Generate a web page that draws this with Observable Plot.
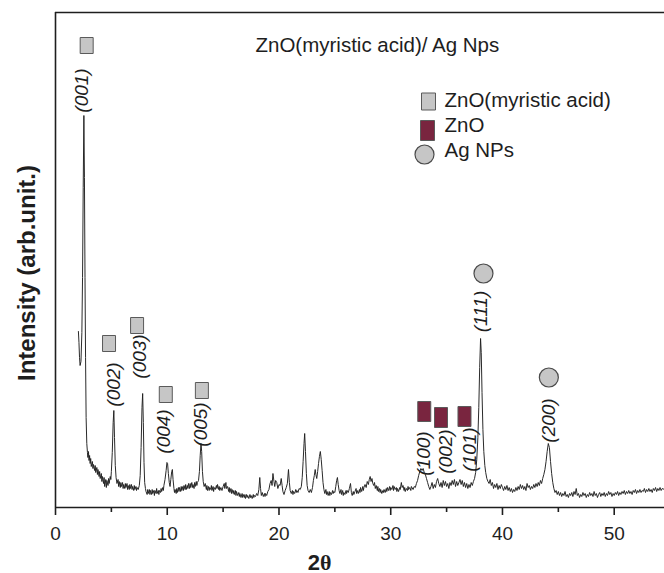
<!DOCTYPE html>
<html>
<head>
<meta charset="utf-8">
<script src="https://cdn.jsdelivr.net/npm/d3@7"></script>
<script src="https://cdn.jsdelivr.net/npm/@observablehq/plot@0.6"></script>
<style>
  html, body { margin: 0; padding: 0; background: #fff; }
  #chart svg { display: block; }
</style>
</head>
<body>
<div id="chart"></div>
<script>
// ---- Data: [2θ (deg), intensity (arb. units)] ----
const pattern = [
 [2.05,176],[2.1,165],[2.15,150],[2.2,142],[2.28,146],[2.36,175],[2.42,230],[2.48,320],[2.54,392],[2.59,330],[2.64,230],[2.69,150],[2.74,90],[2.8,64],[2.86,55],[2.9,50],[2.95,56],[3.0,47],[3.05,52],[3.1,44],[3.15,49],[3.2,41],[3.3,46],[3.35,39],[3.4,43],[3.5,37],[3.55,42],[3.6,35],[3.7,40],[3.75,33],[3.8,38],[3.9,31],[3.95,36],[4.0,29],[4.1,34],[4.15,26],[4.2,31],[4.3,24],[4.35,30],[4.4,21],[4.5,28],[4.55,20],[4.6,27],[4.7,22],[4.75,29],[4.8,24],[4.9,31],[4.95,28],[5.0,36],[5.08,55],[5.16,85],[5.22,97],[5.28,70],[5.35,42],[5.42,30],
 [5.5,24],[5.6,28],[5.65,21],[5.7,26],[5.8,20],[5.85,25],[5.9,21],[6.0,25],[6.05,19],[6.1,23],[6.2,19],[6.25,24],[6.3,20],[6.4,24],[6.45,18],[6.5,22],[6.6,18],[6.65,23],[6.7,19],[6.8,23],[6.85,18],[6.9,21],[7.0,17],[7.05,22],[7.1,18],[7.2,21],[7.25,17],[7.3,20],[7.4,18],[7.5,22],[7.58,32],[7.66,60],[7.74,100],[7.8,114],[7.86,85],[7.92,45],[7.98,25],[8.05,19],
 [8.1,16],[8.2,13],[8.25,18],[8.3,14],[8.4,18],[8.45,13],[8.5,17],[8.6,13],[8.65,18],[8.7,14],[8.8,17],[8.85,12],[8.9,17],[9.0,14],[9.05,19],[9.1,14],[9.2,17],[9.25,13],[9.3,17],[9.4,15],[9.45,19],[9.5,16],[9.6,20],[9.65,17],[9.7,22],[9.8,28],[9.9,37],[9.97,45],[10.03,44],[10.1,34],[10.18,25],[10.25,21],[10.32,28],[10.4,36],[10.46,38],[10.52,28],[10.6,19],[10.65,15],
 [10.7,18],[10.8,14],[10.85,19],[10.9,15],[11.0,20],[11.05,16],[11.1,20],[11.2,16],[11.25,21],[11.3,17],[11.4,21],[11.45,17],[11.5,22],[11.6,18],[11.65,23],[11.7,18],[11.8,22],[11.85,19],[11.9,24],[12.0,19],[12.05,24],[12.1,20],[12.2,25],[12.25,20],[12.3,23],[12.4,19],[12.45,25],[12.5,21],[12.6,26],[12.65,22],[12.7,25],[12.8,27],[12.88,36],[12.95,52],[13.02,64],[13.08,56],[13.15,36],[13.22,26],[13.3,21],[13.4,24],
 [13.5,18],[13.55,22],[13.6,17],[13.7,21],[13.75,17],[13.8,20],[13.9,18],[13.95,22],[14.0,17],[14.1,21],[14.15,16],[14.2,20],[14.3,18],[14.4,22],[14.45,19],[14.5,23],[14.6,18],[14.65,21],[14.7,17],[14.8,20],[14.9,17],[15.0,21],[15.1,24],[15.15,19],[15.25,25],[15.3,19],[15.4,21],[15.5,16],[15.55,20],[15.6,15],[15.7,19],[15.75,14],[15.8,18],[15.9,14],[15.95,17],[16.0,13],[16.1,17],[16.15,12],[16.2,16],[16.3,12],[16.4,15],[16.45,11],[16.5,14],
 [16.6,10],[16.7,14],[16.75,10],[16.8,13],[16.9,10],[16.95,13],[17.0,9],[17.1,13],[17.15,10],[17.2,12],[17.3,9],[17.4,13],[17.45,10],[17.5,12],[17.6,9],[17.7,13],[17.75,10],[17.8,12],[17.9,11],[18.0,14],[18.1,12],[18.2,18],[18.28,30],[18.35,19],[18.42,12],[18.5,15],[18.6,11],[18.7,14],[18.75,11],[18.8,14],[18.9,12],[19.0,16],[19.1,18],[19.2,24],[19.3,27],[19.38,22],[19.46,34],[19.55,26],[19.62,21],[19.7,27],[19.8,25],[19.9,19],[20.0,23],[20.1,22],[20.2,29],[20.28,22],[20.35,16],[20.45,13],[20.55,17],[20.65,20],[20.75,24],[20.85,38],[20.93,25],[21.0,17],[21.1,14],[21.2,17],[21.25,13],[21.3,16],[21.4,14],[21.5,18],[21.55,15],[21.6,17],[21.7,15],[21.8,19],[21.9,18],[22.0,21],[22.08,30],[22.16,46],[22.24,64],[22.3,74],[22.37,56],[22.45,34],[22.52,22],[22.6,17],[22.7,15],[22.8,18],[22.9,15],[23.0,20],
 [23.08,27],[23.16,32],[23.24,38],[23.3,33],[23.38,29],[23.46,36],[23.54,44],[23.62,51],[23.7,56],[23.78,48],[23.86,37],[23.94,25],[24.02,18],[24.1,14],[24.2,18],[24.25,13],[24.3,16],[24.4,12],[24.5,16],[24.55,12],[24.6,15],[24.7,13],[24.8,17],[24.85,14],[24.9,16],[25.0,15],[25.08,21],[25.16,27],[25.23,30],[25.3,23],[25.38,17],[25.45,14],[25.55,18],[25.6,13],[25.7,17],[25.75,12],[25.8,15],[25.9,13],[26.0,17],[26.05,14],[26.1,17],[26.2,15],[26.3,19],[26.4,24],[26.48,15],[26.55,12],[26.65,16],[26.7,13],[26.8,16],[26.9,19],[26.95,14],[27.0,17],[27.1,14],[27.2,18],[27.25,15],[27.3,20],[27.4,16],[27.5,21],[27.55,17],[27.6,20],[27.7,23],[27.8,20],[27.9,26],[28.0,23],[28.08,28],[28.16,31],[28.24,26],[28.32,29],[28.4,24],[28.48,22],[28.55,25],[28.62,19],[28.7,22],[28.8,17],[28.85,21],[28.9,16],[29.0,19],[29.05,15],[29.1,18],[29.2,14],[29.3,17],[29.35,15],[29.4,18],[29.5,15],[29.6,19],[29.65,16],[29.7,20],[29.8,17],[29.9,21],[29.95,17],[30.0,20],[30.1,18],[30.2,22],[30.25,17],[30.3,21],[30.4,18],[30.5,20],[30.55,16],[30.6,19],[30.7,16],[30.8,20],[30.85,18],[30.95,25],[31.02,20],[31.1,22],[31.2,17],[31.25,20],[31.3,16],[31.4,19],[31.5,17],[31.55,21],[31.6,18],[31.7,20],[31.8,17],[31.85,21],[31.9,20],[32.0,18],[32.1,21],[32.2,20],[32.3,24],[32.4,27],[32.5,32],[32.6,36],[32.7,39],[32.8,37],[32.9,39],[33.0,35],[33.1,33],[33.2,29],[33.3,25],[33.4,21],[33.5,18],[33.6,21],[33.7,25],[33.8,19],[33.9,23],
 [34.0,20],[34.1,26],[34.2,29],[34.3,24],[34.4,21],[34.5,25],[34.6,20],[34.7,27],[34.8,22],[34.9,26],[35.0,21],[35.1,24],[35.2,19],[35.3,25],[35.4,22],[35.5,27],[35.6,23],[35.7,28],[35.8,21],[35.9,26],[36.0,22],[36.1,25],[36.2,28],[36.3,23],[36.4,27],[36.5,21],[36.6,25],[36.7,20],[36.8,24],[36.9,19],[37.0,23],[37.1,20],[37.2,25],[37.3,22],[37.4,26],[37.5,29],[37.6,35],[37.7,48],[37.8,70],[37.88,100],[37.96,140],[38.04,169],[38.1,155],[38.17,115],[38.25,78],[38.33,56],[38.42,42],[38.5,35],[38.6,29],[38.7,26],
 [38.8,24],[38.9,28],[39.0,22],[39.1,25],[39.2,19],[39.3,23],[39.4,20],[39.5,24],[39.6,18],[39.7,22],[39.8,19],[39.9,23],[40.0,20],[40.1,17],[40.2,21],[40.3,18],[40.4,22],[40.5,17],[40.6,20],[40.7,16],[40.8,19],[40.9,15],[41.0,18],[41.1,16],[41.2,20],[41.3,17],[41.4,21],[41.5,18],[41.6,23],[41.7,19],[41.8,22],[41.9,18],[42.0,21],[42.1,17],[42.2,24],[42.3,20],[42.4,22],[42.5,18],[42.6,21],[42.7,19],[42.8,23],[42.9,20],[43.0,24],[43.1,21],[43.2,25],[43.3,22],[43.4,27],[43.5,24],[43.6,29],[43.7,33],[43.8,38],[43.9,46],[44.0,56],[44.1,64],[44.2,60],[44.3,46],[44.4,34],[44.5,25],[44.6,19],[44.7,15],[44.8,17],[44.9,13],
 [45.0,16],[45.1,12],[45.2,15],[45.3,11],[45.4,14],[45.5,12],[45.6,16],[45.7,11],[45.8,13],[45.9,10],[46.0,14],[46.1,12],[46.2,15],[46.3,11],[46.4,16],[46.5,13],[46.6,19],[46.7,12],[46.8,14],[46.9,10],[47.0,13],[47.1,11],[47.2,15],[47.3,12],[47.4,14],[47.5,10],[47.6,13],[47.7,11],[47.8,15],[47.9,12],[48.0,14],[48.1,11],[48.2,16],[48.3,12],[48.4,14],[48.5,10],[48.6,13],[48.7,15],[48.8,11],[48.9,14],[49.0,12],[49.1,15],[49.2,11],[49.3,14],[49.4,12],[49.5,16],[49.6,13],[49.7,15],[49.8,11],[49.9,14],[50.0,12],[50.1,15],[50.2,13],[50.3,16],[50.4,12],[50.5,15],[50.6,13],[50.7,16],[50.8,14],[50.9,17],[51.0,13],[51.1,16],[51.2,14],[51.3,17],[51.4,14],[51.5,16],[51.6,13],[51.7,17],[51.8,15],[51.9,18],[52.0,14],[52.1,17],[52.2,15],[52.3,18],[52.4,15],[52.5,17],[52.6,16],[52.7,19],[52.8,15],[52.9,18],[53.0,16],[53.1,19],[53.2,16],[53.3,18],[53.4,15],[53.5,19],[53.6,17],[53.7,20],[53.8,16],[53.9,19],[54.0,17],[54.1,20],[54.2,17],[54.3,19],[54.5,18]
];

// Peak markers [2θ, height] and Miller-index labels [text, 2θ, height]
const acidMarkers = [[2.79,462],[4.79,164],[7.3,182],[9.87,113],[13.1,117]];
const acidLabels  = [["(001)",2.33,417],["(002)",5.24,123],["(003)",7.52,151],["(004)",9.71,76],["(005)",13.0,83]];
const znoMarkers  = [[33.0,96],[34.5,90],[36.6,91]];
const znoLabels   = [["(100)",33.0,54],["(002)",34.96,56],["(101)",37.06,58]];
const agMarkers   = [[38.3,234],[44.15,130]];
const agLabels    = [["(111)",38.1,196],["(200)",44.18,87]];

const majorTicks = [0, 10, 20, 30, 40, 50];
const minorTicks = [5, 15, 25, 35, 45];
const legendLabels = ["ZnO(myristic acid)", "ZnO", "Ag NPs"];
const titleText = "ZnO(myristic acid)/ Ag Nps";
const yLabel = "Intensity (arb.unit.)";

// ---- Styling ----
const sans = "'Liberation Sans', Arial, Helvetica, sans-serif";
const serif = "'Liberation Serif', 'Times New Roman', serif";
const gray = "#c6c6c6";
const maroon = "#79253f";
const ink = "#1e1e1e";
const rectSym = (w, h) => ({
  draw(ctx) {
    ctx.moveTo(-w / 2, -h / 2); ctx.lineTo(w / 2, -h / 2);
    ctx.lineTo(w / 2, h / 2); ctx.lineTo(-w / 2, h / 2); ctx.closePath();
  }
});
const sqSym = rectSym(13, 16);
const barSym = rectSym(13, 20);
const legendText = { frameAnchor: "top-left", textAnchor: "start", lineAnchor: "middle", fontSize: 20.5, fill: ink };

const chart = Plot.plot({
  width: 664,
  height: 573,
  marginTop: 12,
  marginRight: 0,
  marginBottom: 66,
  marginLeft: 55,
  style: { fontFamily: sans, fontSize: "19px", color: ink, background: "#fff", overflow: "visible" },
  x: { domain: [0, 54.5] },
  y: { domain: [0, 495], axis: null },
  marks: [
    // frame
    Plot.ruleX([0], { stroke: ink, strokeWidth: 1.6 }),
    Plot.ruleY([0], { stroke: ink, strokeWidth: 1.6 }),
    Plot.ruleY([495], { stroke: ink, strokeWidth: 1.6 }),
    // x axis
    Plot.axisX(majorTicks, { tickSize: 8, tickPadding: 11, fontSize: 19, tickFormat: d => String(d), label: null, strokeWidth: 1.6 }),
    Plot.axisX(minorTicks, { tickSize: 5, tickFormat: () => "", label: null, strokeWidth: 1.6 }),
    // pattern
    Plot.line(pattern, { x: d => d[0], y: d => d[1], stroke: "#1f1f1f", strokeWidth: 0.95 }),
    // peak markers
    Plot.dot(acidMarkers, { x: d => d[0], y: d => d[1], symbol: sqSym, r: 5, fill: gray, stroke: "#5a5a5a", strokeWidth: 1 }),
    Plot.dot(znoMarkers, { x: d => d[0], y: d => d[1], symbol: barSym, r: 5, fill: maroon, stroke: "#5a5a5a", strokeWidth: 1 }),
    Plot.dot(agMarkers, { x: d => d[0], y: d => d[1], r: 9.5, fill: gray, stroke: "#4a4a4a", strokeWidth: 1.2 }),
    // hkl labels
    Plot.text([...acidLabels, ...znoLabels, ...agLabels], {
      x: d => d[1], y: d => d[2], text: d => d[0], rotate: -90,
      fontStyle: "italic", fontSize: 19, fill: ink
    }),
    // title
    Plot.text([titleText], { ...legendText, dx: 200, dy: 33 }),
    // legend
    Plot.dot([legendLabels[0]], { frameAnchor: "top-left", dx: 373, dy: 89, symbol: rectSym(14, 17), r: 5, fill: gray, stroke: "#5a5a5a", strokeWidth: 1 }),
    Plot.dot([legendLabels[1]], { frameAnchor: "top-left", dx: 372, dy: 118, symbol: rectSym(14, 20), r: 5, fill: maroon, stroke: "#5a5a5a", strokeWidth: 1 }),
    Plot.dot([legendLabels[2]], { frameAnchor: "top-left", dx: 369, dy: 142, r: 9.5, fill: gray, stroke: "#4a4a4a", strokeWidth: 1.2 }),
    Plot.text([legendLabels[0]], { ...legendText, dx: 389, dy: 88 }),
    Plot.text([legendLabels[1]], { ...legendText, dx: 389, dy: 113 }),
    Plot.text([legendLabels[2]], { ...legendText, dx: 389, dy: 138 }),
    // y label
    Plot.text([yLabel], { frameAnchor: "left", textAnchor: "middle", lineAnchor: "middle", dx: -28, dy: 13, rotate: -90, fontWeight: "bold", fontSize: 24, fill: ink }),
    // x label "2θ"
    Plot.text(["2"], { frameAnchor: "bottom", lineAnchor: "middle", dx: -40, dy: 55, textAnchor: "end", fontWeight: "bold", fontSize: 22, fill: ink }),
    Plot.text(["θ"], { frameAnchor: "bottom", lineAnchor: "middle", dx: -40, dy: 55, textAnchor: "start", fontWeight: "bold", fontFamily: serif, fontSize: 22, fill: ink })
  ]
});
document.getElementById("chart").appendChild(chart);
</script>
</body>
</html>
